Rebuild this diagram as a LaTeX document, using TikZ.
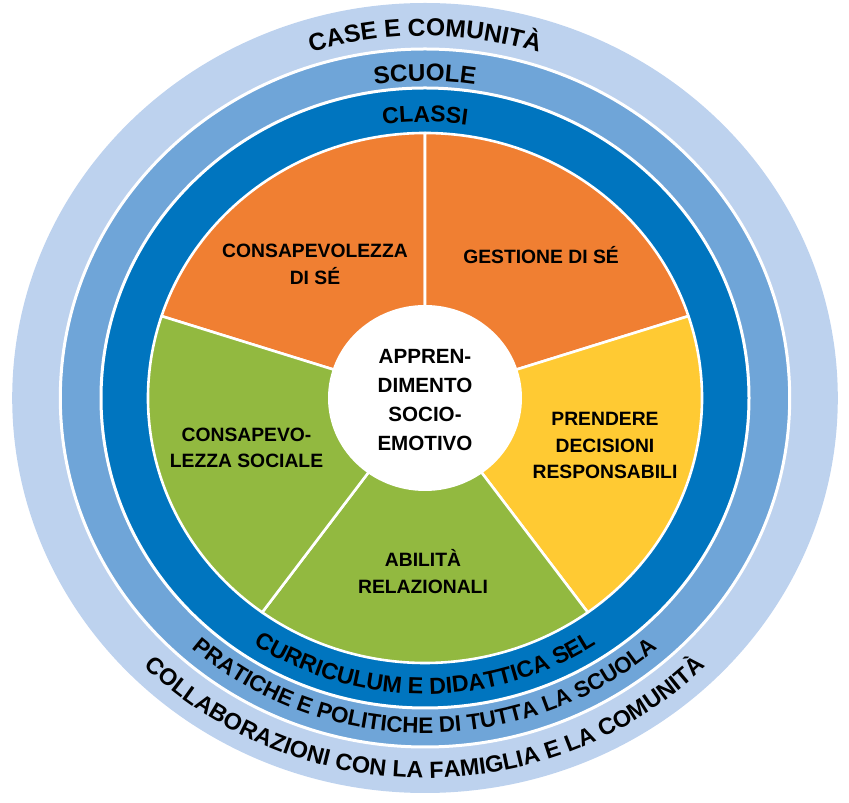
\documentclass[tikz,border=0pt]{standalone}
\usepackage{fontspec}
\setmainfont{Liberation Sans}
\usetikzlibrary{calc,decorations.text}
\definecolor{ringlight}{HTML}{BDD2EE}
\definecolor{ringmid}{HTML}{6FA5D8}
\definecolor{ringdark}{HTML}{0075BF}
\definecolor{secorange}{HTML}{F07F32}
\definecolor{secyellow}{HTML}{FFCA33}
\definecolor{secgreen}{HTML}{92B940}
\newcommand\ringfmt[1]{\bfseries\fontsize{#1}{26}\selectfont}
\tikzset{
  sector/.style={draw=white, line width=2.6pt, line join=round},
  ringsep/.style={draw=white, line width=3pt},
  lbl/.style={font=\bfseries\fontsize{19.3}{26.7}\selectfont, align=center, inner sep=0pt},
  centerlbl/.style={font=\bfseries\fontsize{20.6}{28.7}\selectfont, align=center, inner sep=0pt},
}
\begin{document}
\begin{tikzpicture}[x=1pt,y=1pt]
\useasboundingbox (0,0) rectangle (849,803);
\coordinate (c) at (425,405);
% rings
\fill[ringlight] (c) ellipse [x radius=412.8pt, y radius=395pt];
\filldraw[fill=ringmid, ringsep] (c) ellipse [x radius=364.7pt, y radius=349pt];
\filldraw[fill=ringdark, ringsep] (c) ellipse [x radius=324pt, y radius=310pt];
% sectors
\foreach \a/\b/\col in {90/162/secorange, 18/90/secorange, -54/18/secyellow, 234/306/secgreen, 162/234/secgreen}
  \filldraw[fill=\col, sector] (c) -- ($(c)+(\a:277pt and 265pt)$)
    arc[start angle=\a, end angle=\b, x radius=277pt, y radius=265pt] -- cycle;
% centre disc
\fill[white] (c) ellipse [x radius=97pt, y radius=93pt];
% ring texts (top)
\path[decorate, decoration={text along path, text align=center, text={|\ringfmt{24.6}|CASE E COMUNITÀ}}]
  ($(c)+(170:378.3pt and 362pt)$) arc[start angle=170, end angle=10, x radius=378.3pt, y radius=362pt];
\path[decorate, decoration={text along path, text align=center, text={|\ringfmt{24.2}|SCUOLE}}]
  ($(c)+(170:331.3pt and 317pt)$) arc[start angle=170, end angle=10, x radius=331.3pt, y radius=317pt];
\path[decorate, decoration={text along path, text align=center, text={|\ringfmt{22.9}|CLASSI}}]
  ($(c)+(170:288.4pt and 276pt)$) arc[start angle=170, end angle=10, x radius=288.4pt, y radius=276pt];
% ring texts (bottom)
\path[decorate, decoration={text along path, text align=center, text={|\ringfmt{23.2}|CURRICULUM E DIDATTICA SEL}}]
  ($(c)+(190:309.3pt and 296pt)$) arc[start angle=190, end angle=350, x radius=309.3pt, y radius=296pt];
\path[decorate, decoration={text along path, text align=center, text={|\ringfmt{22.4}|PRATICHE E POLITICHE DI TUTTA LA SCUOLA}}]
  ($(c)+(190:350.1pt and 335pt)$) arc[start angle=190, end angle=350, x radius=350.1pt, y radius=335pt];
\path[decorate, decoration={text along path, text align=center, text={|\ringfmt{23.4}|COLLABORAZIONI CON LA FAMIGLIA E LA COMUNITÀ}}]
  ($(c)+(190:397.1pt and 380pt)$) arc[start angle=190, end angle=350, x radius=397.1pt, y radius=380pt];
% labels
\node[lbl] (cds) at (315,538.5) {CONSAPEVOLEZZA\\DI SÉ};
\node[lbl, anchor=base] (gds) at (541,539) {GESTIONE DI SÉ};
\node[centerlbl] (sel) at (425,403) {APPREN-\\DIMENTO\\SOCIO-\\EMOTIVO};
\node[lbl] (pdr) at (605,357.5) {PRENDERE\\DECISIONI\\RESPONSABILI};
\node[lbl] (cs) at (246.5,355) {CONSAPEVO-\\LEZZA SOCIALE};
\node[lbl] (ar) at (423,231.3) {ABILITÀ\\RELAZIONALI};
\end{tikzpicture}
\end{document}
